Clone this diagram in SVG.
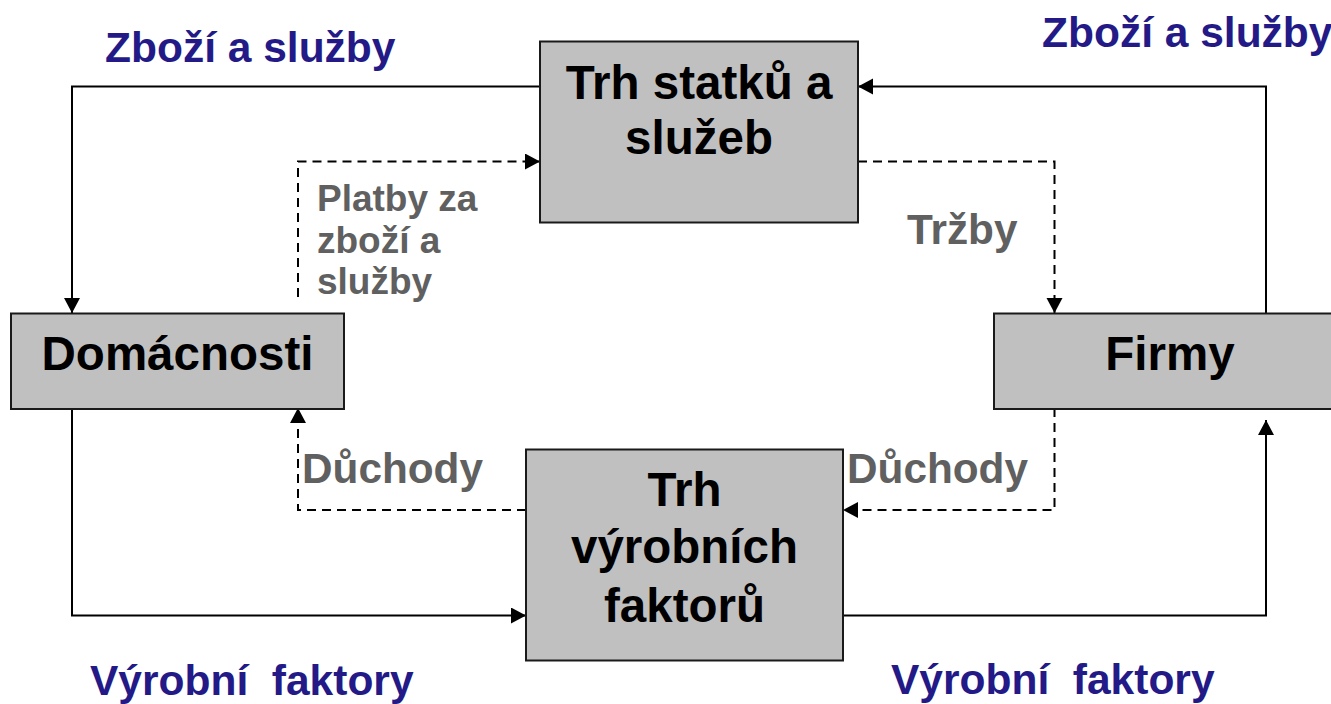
<svg xmlns="http://www.w3.org/2000/svg" width="1331" height="704" viewBox="0 0 1331 704">
<defs>
<marker id="ah" markerUnits="userSpaceOnUse" markerWidth="17" markerHeight="17" refX="15" refY="8" orient="auto">
<path d="M0,0 L15,8 L0,16 z" fill="#000"/>
</marker>
<style>
.box{fill:#c0c0c0;stroke:#1a1a1a;stroke-width:2}
.bt{font-family:"Liberation Sans",Arial,sans-serif;font-weight:bold;font-size:47.5px;fill:#000;text-anchor:middle}
.blue{font-family:"Liberation Sans",Arial,sans-serif;font-weight:bold;font-size:42.5px;fill:#231a87;white-space:pre}
.gray{font-family:"Liberation Sans",Arial,sans-serif;font-weight:bold;fill:#606060}
.solid{fill:none;stroke:#000;stroke-width:2}
.dash{fill:none;stroke:#000;stroke-width:2;stroke-dasharray:9 6}
</style>
</defs>
<rect width="1331" height="704" fill="#fff"/>
<g id="connectors">
<path class="solid" d="M540,86.5 H72 V313" marker-end="url(#ah)"/>
<path class="dash" d="M298,297 V161.5 H540" marker-end="url(#ah)"/>
<path class="solid" d="M1266,313 V86.5 H858" marker-end="url(#ah)"/>
<path class="dash" d="M858,161.5 H1054.5 V313" marker-end="url(#ah)"/>
<path class="solid" d="M72,408 V615.5 H526" marker-end="url(#ah)"/>
<path class="dash" d="M526,510 H298 V408" marker-end="url(#ah)"/>
<path class="solid" d="M843,615.5 H1266 V420" marker-end="url(#ah)"/>
<path class="dash" d="M1054.5,408 V510 H843" marker-end="url(#ah)"/>
</g>
<g id="node-trh-statku">
<rect class="box" x="540" y="41.5" width="318" height="181"/>
<text class="bt" x="699" y="98.5">Trh statků a</text>
<text class="bt" x="699" y="153.5">služeb</text>
</g>
<g id="node-domacnosti">
<rect class="box" x="11" y="313.5" width="333" height="95.5"/>
<text class="bt" x="177.5" y="370">Domácnosti</text>
</g>
<g id="node-firmy">
<rect class="box" x="994" y="313.5" width="350" height="95.5"/>
<text class="bt" x="1170" y="370">Firmy</text>
</g>
<g id="node-trh-faktoru">
<rect class="box" x="526" y="449.5" width="317" height="211"/>
<text class="bt" x="684.5" y="505.5">Trh</text>
<text class="bt" x="684.5" y="563">výrobních</text>
<text class="bt" x="684.5" y="621.5">faktorů</text>
</g>
<g id="labels">
<text class="blue" x="105" y="61.5">Zboží a služby</text>
<text class="blue" x="1042" y="46.5">Zboží a služby</text>
<text class="blue" x="90" y="695" xml:space="preserve">Výrobní  faktory</text>
<text class="blue" x="891" y="694" xml:space="preserve">Výrobní  faktory</text>
<text class="gray" font-size="37" x="317" y="211">Platby za</text>
<text class="gray" font-size="37" x="317" y="252.5">zboží a</text>
<text class="gray" font-size="37" x="317" y="294">služby</text>
<text class="gray" font-size="42.3" x="907" y="243.5">Tržby</text>
<text class="gray" font-size="42.3" x="302" y="482.5">Důchody</text>
<text class="gray" font-size="42.3" x="847" y="482.5">Důchody</text>
</g>
</svg>
